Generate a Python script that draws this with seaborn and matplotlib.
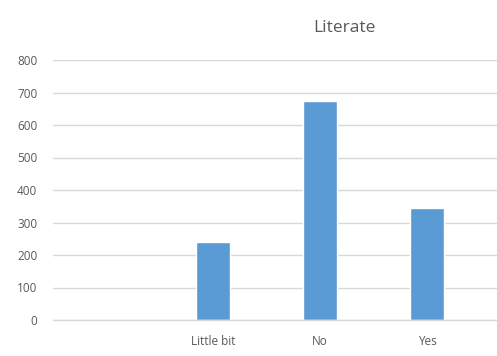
import matplotlib
matplotlib.use("Agg")
import matplotlib.pyplot as plt
import seaborn as sns
import pandas as pd

categories = ["", "Little bit", "No", "Yes"]
data_categories = ["Little bit", "No", "Yes"]
values = [241, 675, 344]
yticks = [0, 100, 200, 300, 400, 500, 600, 700, 800]

sns.set_theme(style="white")
plt.rcParams["font.family"] = ["Open Sans", "DejaVu Sans"]

df = pd.DataFrame({"cat": data_categories, "val": values})

fig = plt.figure(figsize=(4.97, 3.56), dpi=100)
ax = fig.add_axes([52.5 / 497, 36 / 356, 1 - 52.5 / 497, 260 / 356])

sns.barplot(data=df, x="cat", y="val", order=categories, color="#5B9BD5",
            width=0.31, saturation=1, ax=ax)

ax.set_ylim(0, 800)
ax.set_xlim(-0.5, (497 - 52.5) / 107 - 0.5)
ax.set_yticks(yticks)
ax.set_yticklabels([str(t) for t in yticks])
ax.yaxis.grid(True, color="#D9D9D9", linewidth=1)
ax.set_axisbelow(True)
for s in ["top", "right", "left"]:
    ax.spines[s].set_visible(False)
ax.spines["bottom"].set_color("#D9D9D9")
ax.spines["bottom"].set_linewidth(1)
ax.tick_params(axis="both", length=0, colors="#595959", labelsize=8.5)
ax.tick_params(axis="y", pad=11)
ax.tick_params(axis="x", pad=11)
ax.set_xlabel("")
ax.set_ylabel("")

fig.text(344 / 497, 1 - 28 / 356, "Literate", ha="center", va="center",
         fontsize=12.5, color="#595959")

fig.savefig("out.png", dpi=100)
